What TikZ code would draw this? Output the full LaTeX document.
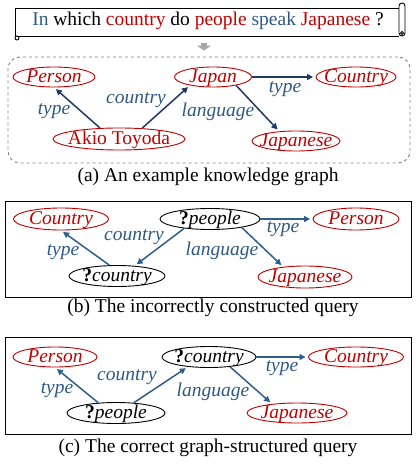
\documentclass[tikz,border=0pt]{standalone}
\usepackage{fontspec}
\setmainfont{Liberation Serif}
\usepackage{tikz}
\usetikzlibrary{shapes.geometric, arrows.meta, positioning}
\definecolor{kgred}{RGB}{192, 0, 0}
\definecolor{edgenavy}{RGB}{32, 56, 100}
\definecolor{edgeblue}{RGB}{46, 94, 142}
\definecolor{lblblue}{RGB}{46, 88, 134}
\definecolor{arrowgray}{RGB}{166, 166, 166}
\newcommand{\figfont}{\fontsize{19.5}{22}\selectfont}
\newcommand{\nm}[1]{\makebox[0pt]{\raisebox{-0.3em}{#1}}}
\newcommand{\qm}{\textup{\textbf{?}}}

\begin{document}
\begin{tikzpicture}[x=1pt, y=-1pt,
    every node/.style={font=\figfont},
    ent/.style={ellipse, draw=kgred, text=kgred, line width=0.9pt, inner sep=0pt,
                minimum height=20pt, text height=0pt, text depth=0pt, font=\figfont\itshape},
    qvar/.style={ellipse, draw=black, line width=0.9pt, inner sep=0pt,
                minimum height=21pt, text height=0pt, text depth=0pt, font=\figfont\itshape},
    lbl/.style={text=lblblue, inner sep=0pt, font=\figfont\itshape},
    arrow/.style={-{Triangle[length=6pt,width=6pt]}, line width=1.5pt, draw=edgeblue, shorten >=2.5pt},
    panel/.style={draw, line width=0.9pt},
    scroll/.style={line width=0.9pt},
    downarrow/.style={draw=arrowgray, line width=6pt, -{Triangle[length=5pt,width=14pt]}},
]
\useasboundingbox (0,0) rectangle (415,465);

%% Pregunta en el pergamino
\node (question) at (208,21) {\textcolor{lblblue}{In} which \textcolor{kgred}{country} do
      \textcolor{kgred}{people} \textcolor{lblblue}{speak} \textcolor{kgred}{Japanese} ?};
\draw[scroll] (15,37) -- (15,8) -- (399,8);
\draw[scroll] (17,36) -- (399,36);
\draw[scroll, rounded corners=3pt] (399,3) rectangle (405,36);
\draw[scroll] (402,33) circle (1.5pt);
\draw[scroll] (17,38) circle (2pt);

%% (a) grafo de conocimiento
\node[draw=gray, dashed, line width=0.9pt, rounded corners=12pt,
      minimum width=402pt, minimum height=106pt] (kgbox) at (209,110) {};
\draw[downarrow] ([xshift=-4pt,yshift=-10pt]question.south) -- ([xshift=-5pt,yshift=6pt]kgbox.north);

\node[ent, minimum width=82pt] (person)   at (54,77)  {\nm{Person}};
\node[ent, minimum width=77pt] (japan)    at (213,77) {\nm{Japan}};
\node[ent, minimum width=80pt] (country)  at (356,77) {\nm{Country}};
\node[ent, minimum width=132pt, minimum height=22pt, font=\figfont\upshape] (akio) at (119,139) {\nm{Akio Toyoda}};
\node[ent, minimum width=88pt] (japanese) at (296,141) {\nm{Japanese}};

\draw[arrow, draw=edgenavy] (akio.150)  -- (person.south);
\draw[arrow, draw=edgenavy] (akio.25)   -- (japan.200);
\draw[arrow, draw=edgenavy] (japan.east) -- (country.west);
\draw[arrow, draw=edgenavy] (japan.340) -- (japanese.150);

\node[lbl] (atype1)  at (54,111) {type};
\node[lbl] (acntry)  at (136,100) {country};
\node[lbl] (atype2)  at (285,89) {type};
\node[lbl] (alang)   at (218,112) {language};

\node (capa) at (208,177) {(a) An example knowledge graph};

%% (b) consulta incorrecta
\node[panel, minimum width=406pt, minimum height=96pt] (bbox) at (208,249) {};

\node[ent, minimum width=95pt, minimum height=22pt] (bcountry)  at (61,219)  {\nm{Country}};
\node[qvar, minimum width=100pt]                    (bpeople)   at (210,219) {\nm{\qm people}};
\node[ent, minimum width=86pt, minimum height=22pt] (bperson)   at (356,219) {\nm{Person}};
\node[qvar, minimum width=96pt]                     (bqcountry) at (117,276) {\nm{\qm country}};
\node[ent, minimum width=94pt, minimum height=22pt] (bjapanese) at (305,277) {\nm{Japanese}};

\draw[arrow] (bqcountry.125) -- (bcountry.south);
\draw[arrow] (bpeople.200)   -- (bqcountry.30);
\draw[arrow] (bpeople.east)  -- (bperson.west);
\draw[arrow] (bpeople.345)   -- (bjapanese.155);

\node[lbl] (btype1) at (63,252)  {type};
\node[lbl] (bcntry) at (134,237) {country};
\node[lbl] (btype2) at (283,229) {type};
\node[lbl] (blang)  at (222,251) {language};

\node (capb) at (213,308) {(b) The incorrectly constructed query};

%% (c) consulta correcta
\node[panel, minimum width=406pt, minimum height=97pt] (cbox) at (208,385.5) {};

\node[ent, minimum width=84pt]  (cperson)   at (55,357)  {\nm{Person}};
\node[qvar, minimum width=94pt] (cqcountry) at (209,357) {\nm{\qm country}};
\node[ent, minimum width=95pt]  (ccountry)  at (356,357) {\nm{Country}};
\node[qvar, minimum width=98pt] (cqpeople)  at (116,413) {\nm{\qm people}};
\node[ent, minimum width=100pt] (cjapanese) at (297,413) {\nm{Japanese}};

\draw[arrow] (cqpeople.150)   -- (cperson.south);
\draw[arrow] (cqpeople.30)    -- (cqcountry.205);
\draw[arrow] (cqcountry.east) -- (ccountry.west);
\draw[arrow] (cqcountry.335)  -- (cjapanese.160);

\node[lbl] (ctype1) at (57,390)  {type};
\node[lbl] (ccntry) at (127,377) {country};
\node[lbl] (ctype2) at (282,368) {type};
\node[lbl] (clang)  at (213,392) {language};

\node (capc) at (208,448) {(c) The correct graph-structured query};

\end{tikzpicture}
\end{document}
